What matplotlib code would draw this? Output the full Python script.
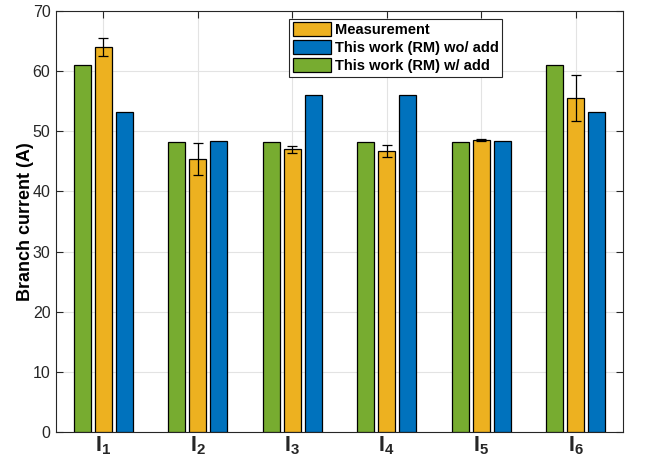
import matplotlib.pyplot as plt
import numpy as np

plt.rcParams['font.family'] = ['Liberation Sans', 'DejaVu Sans']
plt.rcParams['mathtext.fontset'] = 'custom'
plt.rcParams['mathtext.rm'] = 'Liberation Sans'
plt.rcParams['mathtext.bf'] = 'Liberation Sans:bold'

# branch currents per branch
branches = ['1', '2', '3', '4', '5', '6']
with_add = [61.0, 48.3, 48.3, 48.3, 48.3, 61.0]
measured = [64.0, 45.4, 47.0, 46.7, 48.6, 55.5]
measured_err = [1.5, 2.6, 0.6, 0.95, 0.2, 3.8]
without_add = [53.3, 48.4, 56.0, 56.0, 48.4, 53.3]

c_meas = '#EDB120'
c_wo = '#0072BD'
c_w = '#77AC30'

fig = plt.figure(figsize=(6.45, 4.63), dpi=100)
ax = fig.add_axes([0.0868, 0.067, 0.879, 0.909])

x = np.arange(1, len(branches) + 1)
off = 0.222
w = 0.18
bar_kw = dict(width=w, edgecolor='black', linewidth=0.9, zorder=3)

b_w = ax.bar(x - off, with_add, color=c_w, **bar_kw)
b_m = ax.bar(x, measured, color=c_meas, **bar_kw)
b_wo = ax.bar(x + off, without_add, color=c_wo, **bar_kw)
ax.errorbar(x, measured, yerr=measured_err, fmt='none', ecolor='black',
            elinewidth=0.9, capsize=3.5, capthick=0.9, zorder=4)

ax.set_xlim(0.5, 6.5)
ax.set_ylim(0, 70)
ax.set_yticks(np.arange(0, 71, 10))
ax.set_xticks(x)
ax.set_xticklabels([r'$\mathbf{I}_{\mathbf{%s}}$' % b for b in branches],
                   fontsize=15.5)
ax.tick_params(axis='both', direction='in', length=5, width=0.8,
               colors='#262626', top=True, right=True)
ax.tick_params(axis='y', labelsize=11.5, pad=4)
ax.tick_params(axis='x', pad=2)
for lab in ax.get_yticklabels():
    lab.set_color('#262626')

ax.grid(True, color='#e3e3e3', linewidth=0.8, zorder=0)
ax.set_axisbelow(True)
for sp in ax.spines.values():
    sp.set_color('#262626')
    sp.set_linewidth(0.8)

ax.set_ylabel('Branch current (A)', fontsize=13, fontweight='bold', labelpad=-1)

leg = ax.legend([b_m, b_wo, b_w],
                ['Measurement', 'This work (RM) wo/ add', 'This work (RM) w/ add'],
                loc='upper left', bbox_to_anchor=(0.411, 0.982),
                prop={'weight': 'bold', 'size': 10.5}, fancybox=False,
                framealpha=1, edgecolor='#262626', borderpad=0.25,
                labelspacing=0.22, handlelength=2.6, handleheight=1.05,
                handletextpad=0.3, borderaxespad=0)
leg.get_frame().set_linewidth(0.8)

fig.savefig('out.png', dpi=100)
